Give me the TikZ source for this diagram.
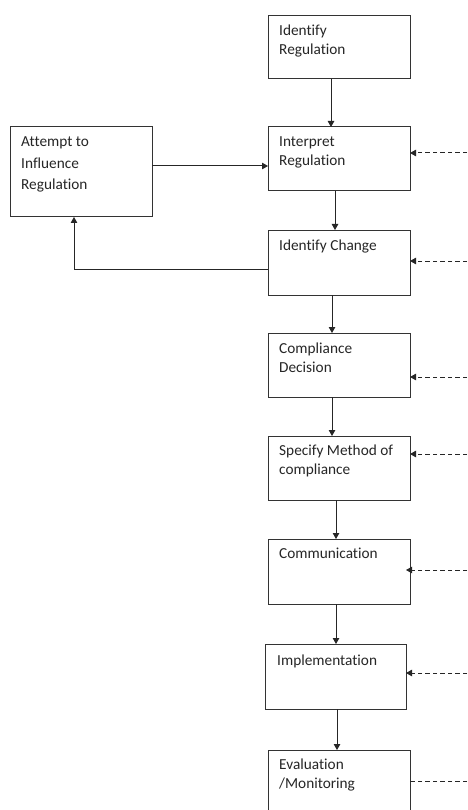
\documentclass[tikz,border=0pt]{standalone}
\usepackage{fontspec}
\setmainfont{Carlito}[Ligatures={NoCommon}]
\usetikzlibrary{arrows.meta}
\tikzset{
  box/.style={draw=black!80, line width=1pt, inner sep=0pt, outer sep=0pt, anchor=north west},
  lbl/.style={anchor=base west, inner sep=0pt, text width=140pt, align=flush left, text=black!85,
    font=\fontsize{15.3}{19}\selectfont},
  arr/.style={draw=black!85, line width=1pt, -{Triangle[width=6.5pt,length=6pt]}},
  darr/.style={draw=black!85, line width=1pt, dash pattern=on 4.5pt off 3pt, -{Triangle[width=6.5pt,length=6pt]}},
  dline/.style={draw=black!85, line width=1pt, dash pattern=on 4.5pt off 3pt},
}
\begin{document}
\begin{tikzpicture}[x=1pt,y=-1pt]
\clip (0,0) rectangle (467,810);
\useasboundingbox (0,0) rectangle (467,810);
\fill[white] (0,0) rectangle (467,810);
% boxes
\node[box, minimum width=142pt, minimum height=63pt] (b1) at (268,16) {};
\node[box, minimum width=142pt, minimum height=64pt] (b2) at (268,127) {};
\node[box, minimum width=142pt, minimum height=90pt] (att) at (10,127) {};
\node[box, minimum width=142pt, minimum height=65pt] (b3) at (268,230) {};
\node[box, minimum width=142pt, minimum height=64pt] (b4) at (268,333) {};
\node[box, minimum width=142pt, minimum height=64pt] (b5) at (268,436) {};
\node[box, minimum width=142pt, minimum height=65pt] (b6) at (268,539) {};
\node[box, minimum width=141pt, minimum height=65pt] (b7) at (265,644) {};
\node[box, minimum width=142pt, minimum height=75pt] (b8) at (268,750) {};
% texts
\node[lbl] (t1) at (279,36) {Identify\\Regulation};
\node[lbl] (t2) at (279,147) {Interpret\\Regulation};
\node[lbl, font=\fontsize{15.3}{21.5}\selectfont] (tatt) at (21,147) {Attempt to\\Influence\\Regulation};
\node[lbl] (t3) at (279,251) {Identify Change};
\node[lbl] (t4) at (279,353) {Compliance\\Decision};
\node[lbl] (t5) at (279,455) {Specify Method of\\compliance};
\node[lbl] (t6) at (279,558) {Communication};
\node[lbl] (t7) at (277,665) {Implementation};
\node[lbl] (t8) at (279,769) {Evaluation\\/Monitoring};
% solid connectors
\draw[arr] ([xshift=-8pt]b1.south) -- ([xshift=-8pt]b1.south |- b2.north);
\draw[arr] ([yshift=6pt]att.east) -- ([yshift=6pt]att.east -| b2.west);
\draw[arr] ([xshift=-4pt]b2.south) -- ([xshift=-4pt]b2.south |- b3.north);
\draw[arr] ([yshift=-6.5pt]b3.west) -| ([xshift=-7pt]att.south);
\draw[arr] ([xshift=-7pt]b3.south) -- ([xshift=-7pt]b3.south |- b4.north);
\draw[arr] ([xshift=-7pt]b4.south) -- ([xshift=-7pt]b4.south |- b5.north);
\draw[arr] ([xshift=-3pt]b5.south) -- ([xshift=-3pt]b5.south |- b6.north);
\draw[arr] ([xshift=-3pt]b6.south) -- ([xshift=-3pt]b6.south |- b7.north);
\draw[arr] ([xshift=1.5pt]b7.south) -- ([xshift=1.5pt]b7.south |- b8.north);
% dashed inputs
\coordinate (d2) at (467,153);
\coordinate (d3) at (467,261);
\coordinate (d4) at (467,377);
\coordinate (d5) at (467,454);
\coordinate (d6) at (467,570);
\coordinate (d7) at (467,673);
\coordinate (d8) at (467,781);
\draw[darr] (d2) -- (d2 -| b2.east);
\draw[darr] (d3) -- (d3 -| b3.east);
\draw[darr] (d4) -- (d4 -| b4.east);
\draw[darr] (d5) -- (d5 -| b5.east);
\draw[darr] (d6) -- ([xshift=-4pt]d6 -| b6.east);
\draw[darr] (d7) -- (d7 -| b7.east);
\draw[dline] (d8) -- (d8 -| b8.east);
\end{tikzpicture}
\end{document}
